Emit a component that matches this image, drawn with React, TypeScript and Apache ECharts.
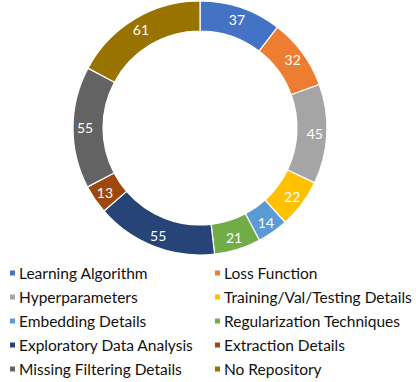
import React, { useEffect, useRef } from "react";
import * as echarts from "echarts";

const categories = [
  "Learning Algorithm",
  "Loss Function",
  "Hyperparameters",
  "Training/Val/Testing Details",
  "Embedding Details",
  "Regularization Techniques",
  "Exploratory Data Analysis",
  "Extraction Details",
  "Missing Filtering Details",
  "No Repository",
];
const values = [37, 32, 45, 22, 14, 21, 55, 13, 55, 61];
const colors = [
  "#4472C4", "#ED7D31", "#A5A5A5", "#FFC000", "#5B9BD5",
  "#70AD47", "#264478", "#9E480E", "#636363", "#997300",
];

const FONT = "Lato, 'Open Sans', sans-serif";

export default function App() {
  const ref = useRef<HTMLDivElement>(null);
  useEffect(() => {
    if (!ref.current) return;
    const chart = echarts.init(ref.current, undefined, { renderer: "svg" });
    const left = categories.filter((_, i) => i % 2 === 0);
    const right = categories.filter((_, i) => i % 2 === 1);
    const legendCommon = {
      orient: "vertical" as const,
      top: 265,
      icon: "rect",
      itemWidth: 7,
      itemHeight: 7,
      itemGap: 8,
      textStyle: { fontFamily: FONT, fontSize: 15.5, color: "#111", padding: [0, 0, 0, -2] },
      padding: 0,
    };
    chart.setOption({
      animation: false,
      color: colors,
      legend: [
        { ...legendCommon, left: 8, data: left },
        { ...legendCommon, left: 213, data: right },
      ],
      series: [
        {
          type: "pie",
          center: [200, 128],
          radius: [97, 127],
          startAngle: 90,
          clockwise: true,
          itemStyle: { borderColor: "#fff", borderWidth: 1.2 },
          label: {
            show: true,
            position: "inside",
            formatter: "{c}",
            color: "#fff",
            fontFamily: FONT,
            fontSize: 14,
          },
          labelLine: { show: false },
          emphasis: { disabled: true },
          data: categories.map((name, i) => ({ name, value: values[i] })),
        },
      ],
    });
    return () => chart.dispose();
  }, []);
  return <div ref={ref} style={{ width: 416, height: 382, position: "absolute", left: 0, top: 0 }} />;
}
